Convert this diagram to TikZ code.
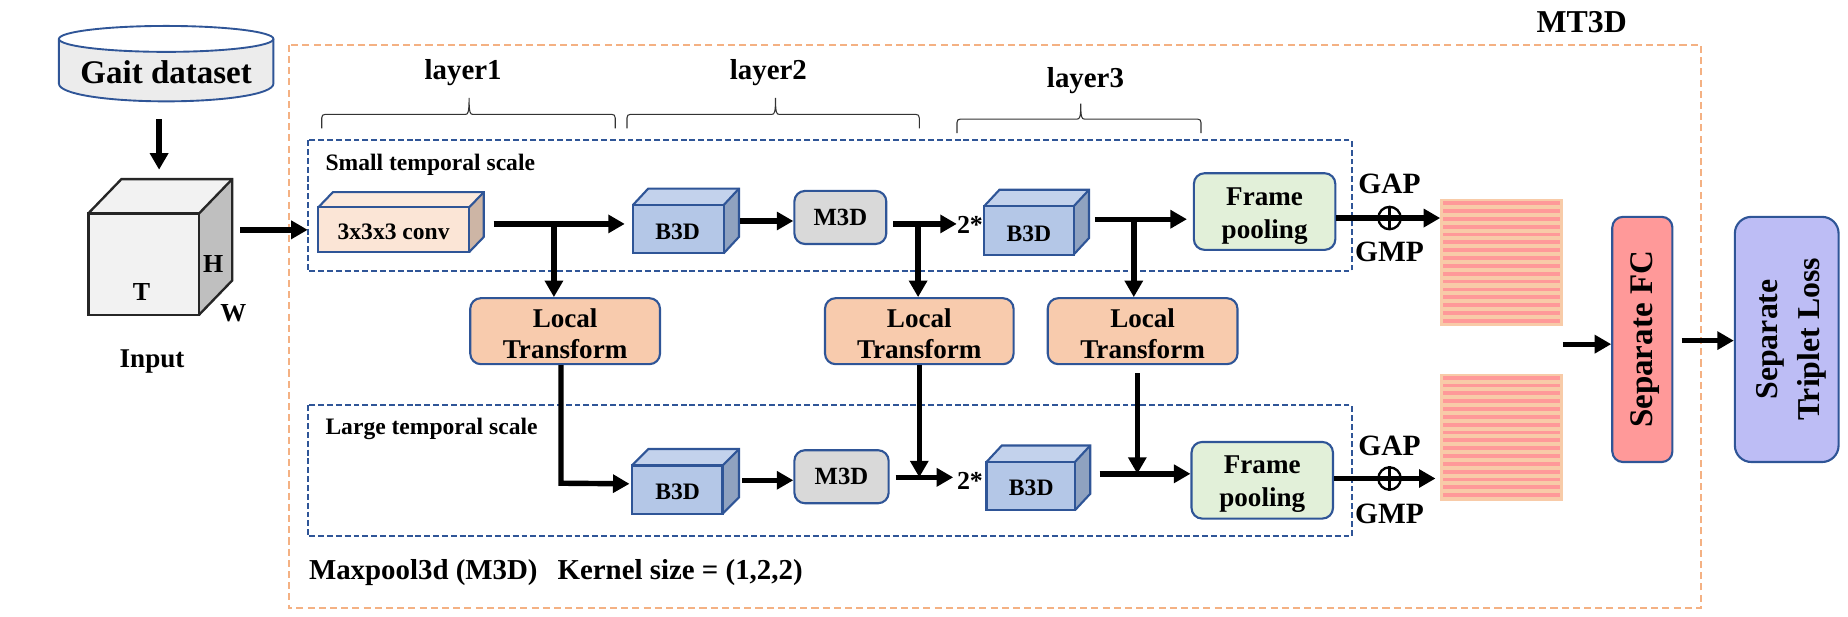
\documentclass[tikz,border=0pt]{standalone}
\usepackage{fontspec}
\setmainfont{Liberation Serif}
\usetikzlibrary{arrows.meta}
\definecolor{edgeblue}{HTML}{2F5597}
\definecolor{dashorange}{HTML}{F4B183}
\definecolor{ltfill}{HTML}{F8CBAD}
\definecolor{frfill}{HTML}{E2F0D9}
\definecolor{mfill}{HTML}{D9D9D9}
\definecolor{fcfill}{HTML}{FF9999}
\definecolor{tlfill}{HTML}{BDBDF5}
\definecolor{bfront}{HTML}{B4C7E7}
\definecolor{btop}{HTML}{C3D2EC}
\definecolor{bside}{HTML}{8FA2C0}
\definecolor{cfront}{HTML}{FBE5D6}
\definecolor{ctop}{HTML}{FCE9DD}
\definecolor{cside}{HTML}{CDB5A5}
\definecolor{stripbg}{HTML}{F8CBA8}
\definecolor{stripfg}{HTML}{FF9999}
\newcommand{\fsz}[1]{\fontsize{#1}{#1}\selectfont\bfseries}
\newcommand{\cuboid}[9]{%
  \fill[#9top] (#2,#3) -- ({#2+#6},{#3-#7}) -- ({#4+#6},{#3-#7}) -- (#4,#3) -- cycle;
  \fill[#9side] (#4,#3) -- ({#4+#6},{#3-#7}) -- ({#4+#6},{#5-#7}) -- (#4,#5) -- cycle;
  \draw[cuboidline] (#2,#3) -- ({#2+#6},{#3-#7}) -- ({#4+#6},{#3-#7}) -- ({#4+#6},{#5-#7}) -- (#4,#5);
  \draw[cuboidline] (#4,#3) -- ({#4+#6},{#3-#7});
  \node[cuboidline,draw,fill=#9front,inner sep=0pt,minimum width={(#4-#2)*1pt},minimum height={(#5-#3)*1pt},font=\fsz{#8}] (#1) at ({(#2+#4)/2},{(#3+#5)/2}) {};
}
\tikzset{
  cuboidline/.style={draw=edgeblue,line width=1.8pt,line join=miter},
  arr/.style={line width=4.6pt,-{Triangle[length=14pt,width=15pt]}},
  arrthin/.style={line width=4pt,-{Triangle[length=14pt,width=15pt]}},
  rbox/.style={draw=edgeblue,line width=1.8pt,rounded corners=9pt,inner sep=0pt,align=center},
  lab/.style={inner sep=0pt,align=center},
  outerdash/.style={draw=dashorange,line width=1.6pt,dash pattern=on 6pt off 3.5pt},
  bluedash/.style={draw=edgeblue,line width=1.6pt,dash pattern=on 5pt off 2.5pt},
  bracket/.style={draw=black!80,line width=0.9pt},
  opl/.style={circle,draw=black,line width=2pt,minimum size=19pt,inner sep=0pt},
}
\newcommand{\stripes}[2]{%
  \fill[stripbg] (#1,#2) rectangle ({#1+104},{#2+108});
  \foreach \i in {0,...,15} {\fill[stripfg] ({#1+2},{#2+1.8+\i*6.65}) rectangle ({#1+102},{#2+5+\i*6.65});}
}
\newcommand{\bracebar}[5]{% x1 tipx x2 ybar ytip, bottom=ybar+12
  \draw[bracket] (#1,{#4+12}) -- (#1,{#4+3}) .. controls (#1,{#4+1}) and ({#1+1},#4) .. ({#1+3},#4) -- ({#2-3},#4) .. controls ({#2-1},#4) and (#2,{#4-1}) .. (#2,#5) .. controls (#2,{#4-1}) and ({#2+1},#4) .. ({#2+3},#4) -- ({#3-3},#4) .. controls ({#3-1},#4) and (#3,{#4+1}) .. (#3,{#4+3}) -- (#3,{#4+12});
}
\begin{document}
\begin{tikzpicture}[x=1pt,y=-1pt]
\useasboundingbox (0,0) rectangle (1568,522.67);
% frames
\draw[outerdash] (245,38) rectangle (1443,516);
\draw[bluedash] (261,119) rectangle (1147,230);
\draw[bluedash] (261,344) rectangle (1147,455);
% database
\fill[mfill!50!white] (50,33) arc[start angle=180,end angle=0,x radius=91,y radius=11] -- (232,71) .. controls (232,80) and (190,86) .. (141,86) .. controls (92,86) and (50,80) .. (50,71) -- cycle;
\draw[edgeblue,line width=1.6pt] (50,33) -- (50,71) .. controls (50,80) and (92,86) .. (141,86) .. controls (190,86) and (232,80) .. (232,71) -- (232,33);
\draw[edgeblue,line width=1.6pt] (141,33) ellipse[x radius=91,y radius=11];
\node[lab,font=\fsz{28}] (db) at (141,61) {Gait dataset};
\coordinate (dbout) at (135,101);
% input cube
\fill[black!5] (75,181) -- (103,152) -- (197,152) -- (169,181) -- cycle;
\fill[black!25] (169,181) -- (197,152) -- (197,238) -- (169,267) -- cycle;
\draw[black!85,line width=2pt] (75,181) -- (103,152) -- (197,152) -- (197,238) -- (169,267);
\draw[black!85,line width=2pt] (169,181) -- (197,152);
\node[draw=black!85,fill=black!5,line width=2pt,inner sep=0pt,minimum width=94pt,minimum height=86pt] (cube) at (122,224) {};
\node[lab,font=\fsz{22}] (tT) at (120,248) {T};
\node[lab,font=\fsz{22}] (tH) at (181,224) {H};
\node[lab,font=\fsz{22}] (tW) at (198,266) {W};
\node[lab,font=\fsz{23}] (tIn) at (129,307) {Input};
% layer labels
\node[lab,font=\fsz{24.5}] (l1) at (393,62) {layer1};
\node[lab,font=\fsz{24.5}] (l2) at (652,62) {layer2};
\node[lab,font=\fsz{24.5}] (l3) at (921,68) {layer3};
\bracebar{273}{398}{522}{97}{83}
\bracebar{532}{658}{780}{97}{83}
\bracebar{812}{917}{1019}{101}{88}
\node[lab,anchor=west,font=\fsz{20}] (small) at (276,140) {Small temporal scale};
\node[lab,anchor=west,font=\fsz{20}] (large) at (276,364) {Large temporal scale};
\node[lab,anchor=west,font=\fsz{24.5}] (mp) at (262,486) {Maxpool3d (M3D)\hspace{17pt}Kernel size = (1,2,2)};
\node[lab,font=\fsz{27}] (mt) at (1342,19) {MT3D};
% top row
\cuboid{conv}{270}{176}{398}{214}{12.5}{13}{17}{c}
\node[lab,font=\fsz{20}] (convt) at (334,197) {3x3x3 conv};
\cuboid{b1}{537}{174}{614}{215}{13}{14}{17}{b}
\node[lab,font=\fsz{20}] (b1t) at (575,197) {B3D};
\node[rbox,fill=mfill,minimum width=78pt,minimum height=45pt,font=\fsz{21}] (m1) at (713,184.5) {M3D};
\node[lab,font=\fsz{22}] (s1) at (823,191) {2*};
\cuboid{b2}{835}{175}{911}{216}{13}{14}{17}{b}
\node[lab,font=\fsz{20}] (b2t) at (873,198) {B3D};
\node[rbox,fill=frfill,minimum width=120pt,minimum height=65pt] (f1) at (1073,179.5) {};
\node[lab,font=\fsz{23}] (f1t) at (1073,183.5) {Frame\\[5pt]pooling};
% local transforms
\node[rbox,fill=ltfill,minimum width=161pt,minimum height=56pt] (lt1) at (479.5,281) {};
\node[lab,font=\fsz{23}] (lt1t) at (479.5,283) {Local\\[3pt]Transform};
\node[rbox,fill=ltfill,minimum width=160pt,minimum height=56pt] (lt2) at (780,281) {};
\node[lab,font=\fsz{23}] (lt2t) at (780,283) {Local\\[3pt]Transform};
\node[rbox,fill=ltfill,minimum width=161pt,minimum height=56pt] (lt3) at (969.5,281) {};
\node[lab,font=\fsz{23}] (lt3t) at (969.5,283) {Local\\[3pt]Transform};
% bottom row
\cuboid{b3}{536}{395}{613}{436}{14}{14}{17}{b}
\node[lab,font=\fsz{20}] (b3t) at (575,417) {B3D};
\node[rbox,fill=mfill,minimum width=80pt,minimum height=45pt,font=\fsz{21}] (m2) at (714,404.5) {M3D};
\node[lab,font=\fsz{22}] (s2) at (823,408) {2*};
\cuboid{b4}{837}{392}{912}{433}{13}{14}{17}{b}
\node[lab,font=\fsz{20}] (b4t) at (875,414) {B3D};
\node[rbox,fill=frfill,minimum width=120pt,minimum height=65pt] (f2) at (1071,407.5) {};
\node[lab,font=\fsz{23}] (f2t) at (1071,411) {Frame\\[5pt]pooling};
% feature stripes
\stripes{1222}{169}
\stripes{1222}{317}
\coordinate (st1) at (1222,185);
\coordinate (st2) at (1218,406);
\coordinate (stm) at (1326,292);
% fc and loss
\node[rbox,fill=fcfill,minimum width=51pt,minimum height=208pt] (fc) at (1393.5,288) {};
\node[lab,rotate=90,font=\fsz{28}] (fct) at (1396,288) {Separate FC};
\node[rbox,fill=tlfill,rounded corners=14pt,minimum width=88pt,minimum height=208pt] (tl) at (1516,288) {};
\node[lab,rotate=90,font=\fsz{27}] (tlt) at (1520,288) {Separate\\[9pt]Triplet Loss};
% gap gmp
\node[lab,font=\fsz{25}] (gap1) at (1179,156) {GAP};
\node[lab,font=\fsz{25}] (gmp1) at (1179,214) {GMP};
\node[lab,font=\fsz{25}] (gap2) at (1179,378) {GAP};
\node[lab,font=\fsz{25}] (gmp2) at (1179,436) {GMP};
\node[opl] (o1) at (1179,185) {};
\node[opl] (o2) at (1179,406) {};
\draw[line width=2pt] (o1.north) -- (o1.south);
\draw[line width=2pt] (o2.north) -- (o2.south);
% junctions
\coordinate (j1) at (470,190);
\coordinate (j2) at (779,190);
\coordinate (j3) at (962,186);
\coordinate (j4) at (476,410);
\coordinate (j5) at (780,405);
\coordinate (j6) at (965,402);
% connectors
\draw[arr] (dbout) -- ([shift={(13,-36)}]cube.north);
\draw[arr] ([shift={(34,-29)}]cube.east) -- ([shift={(-8,0)}]conv.west);
\draw[arr] ([shift={(20,-5)}]conv.east) -- ([shift={(-6,-4.5)}]b1.west);
\draw[arr] (j1) -- (j1 |- lt1.north);
\draw[arr] ([shift={(13,-7)}]b1.east) -- ([shift={(0,3)}]m1.west);
\draw[arr] ([xshift=5]m1.east |- j2) -- (s1.west |- j2);
\draw[arr] (j2) -- (j2 |- lt2.north);
\draw[arr] ([shift={(17,-9.5)}]b2.east) -- ([xshift=-5]f1.west |- j3);
\draw[arr] (j3) -- (j3 |- lt3.north);
\draw[arr] (f1.east |- st1) -- (st1);
\draw[arr] (j4 |- lt1.south) -- (j4) -- ([shift={(-1,-5)}]b3.west);
\draw[arr] ([shift={(16,-8)}]b3.east) -- ([shift={(0,3)}]m2.west);
\draw[arr] ([xshift=5]m2.east |- j5) -- ([xshift=-3]s2.west |- j5);
\draw[arr] (j5 |- lt2.south) -- (j5);
\draw[arr] ([shift={(20,-10.5)}]b4.east) -- (f2.west |- j6);
\draw[arr] (j6 |- lt3.south) ++(0,7) -- (j6);
\draw[arr] (f2.east |- st2) -- (st2);
\draw[arrthin] (stm) -- (fc.west |- stm);
\draw[arrthin] ([shift={(7,1)}]fc.east) -- (tl.west |- 0,289);
\end{tikzpicture}
\end{document}
